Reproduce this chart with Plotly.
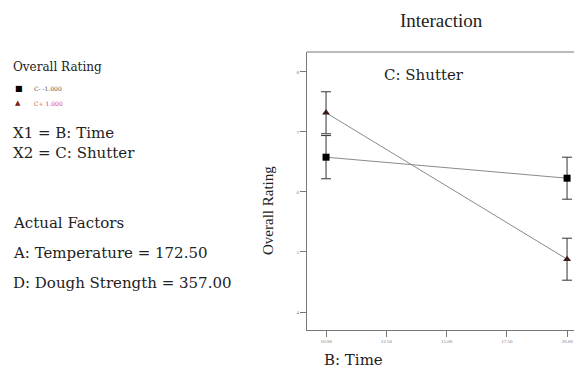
import plotly.graph_objects as go

# Data
time_levels = [10.0, 20.0]
rating_c_minus = [6.58, 6.23]
rating_c_plus = [7.32, 4.88]
err_c_minus = [0.36, 0.35]
err_c_plus = [0.35, 0.35]
x_ticks = [10.0, 12.5, 15.0, 17.5, 20.0]
x_tick_labels = ["10.00", "12.50", "15.00", "17.50", "20.00"]
y_ticks = [4, 5, 6, 7, 8]
y_tick_labels = ["4", "5", "6", "7", "8"]

# page has an 8px body margin: figure pixel = page pixel - 8
O = 8
W, H = 582, 369
L = 307 - O            # plot left edge on page at 307
T = 52 - O             # plot top on page at 52
R = O                  # plot right edge at page 582
B = H - (330 - O)      # plot bottom on page at 330
pw = W - L - R
ph = H - T - B
SERIF = "Liberation Serif, Times New Roman, serif"
WIDE = "DejaVu Serif, serif"

def px(x):
    return (x - O - L) / pw

def py(y):
    return (H - B - (y - O)) / ph

fig = go.Figure()
fig.add_trace(go.Scatter(
    x=time_levels, y=rating_c_minus, mode="lines+markers",
    line=dict(color="#8a8a8a", width=1),
    marker=dict(symbol="square", size=7, color="black"),
    error_y=dict(type="data", array=err_c_minus, color="#333", thickness=1, width=5),
    showlegend=False))
fig.add_trace(go.Scatter(
    x=time_levels, y=rating_c_plus, mode="lines+markers",
    line=dict(color="#8a8a8a", width=1),
    marker=dict(symbol="triangle-up", size=7, color="#3a1a1a"),
    error_y=dict(type="data", array=err_c_plus, color="#333", thickness=1, width=5),
    showlegend=False))

fig.update_xaxes(range=[9.21, 20.62], tickvals=x_ticks, ticktext=x_tick_labels,
                 showline=True, linecolor="#777", linewidth=1, ticks="outside",
                 ticklen=6, tickcolor="#777", showgrid=False, zeroline=False,
                 tickfont=dict(size=5, color="#777", family=SERIF))
fig.update_yaxes(range=[3.7, 8.333], tickvals=y_ticks, ticktext=y_tick_labels,
                 showline=True, linecolor="#777", linewidth=1, ticks="outside",
                 ticklen=6, tickcolor="#777", showgrid=False, zeroline=False,
                 tickfont=dict(size=5, color="#777", family=SERIF))

fig.add_shape(type="line", xref="paper", yref="paper", x0=0, x1=1, y0=1, y1=1,
              line=dict(color="#777", width=1))

ann = []
def txt(x, y, s, size, color="#222", xanchor="left", angle=0, family=WIDE):
    ann.append(dict(x=px(x), y=py(y), xref="paper", yref="paper", text=s,
                    showarrow=False, xanchor=xanchor, yanchor="middle",
                    textangle=angle,
                    font=dict(family=family, size=size, color=color)))

txt(441, 20, "Interaction", 19, xanchor="center", family=SERIF)
txt(424, 75, "C: Shutter", 15, xanchor="center")
txt(268, 211, "Overall Rating", 15, xanchor="center", angle=-90, family=SERIF)
txt(353, 360, "B: Time", 15, xanchor="center")
txt(11, 67, "Overall Rating", 12)
txt(13, 88, "\u25a0", 8, color="black")
txt(32, 88, "C- -1.000", 6, color="#555")
txt(13, 103, "\u25b2", 7, color="#7a1a1a")
txt(32, 103, "C+ 1.000", 6, color="#e0405a")
txt(11, 133, "X1 = B: Time", 15)
txt(11, 153, "X2 = C: Shutter", 15)
txt(11, 223, "Actual Factors", 15)
txt(11, 253, "A: Temperature = 172.50", 15)
txt(11, 283, "D: Dough Strength = 357.00", 15)

fig.update_layout(width=W, height=H, margin=dict(l=L, r=R, t=T, b=B),
                  paper_bgcolor="white", plot_bgcolor="white",
                  annotations=ann, showlegend=False)
fig.write_html("out.html")
